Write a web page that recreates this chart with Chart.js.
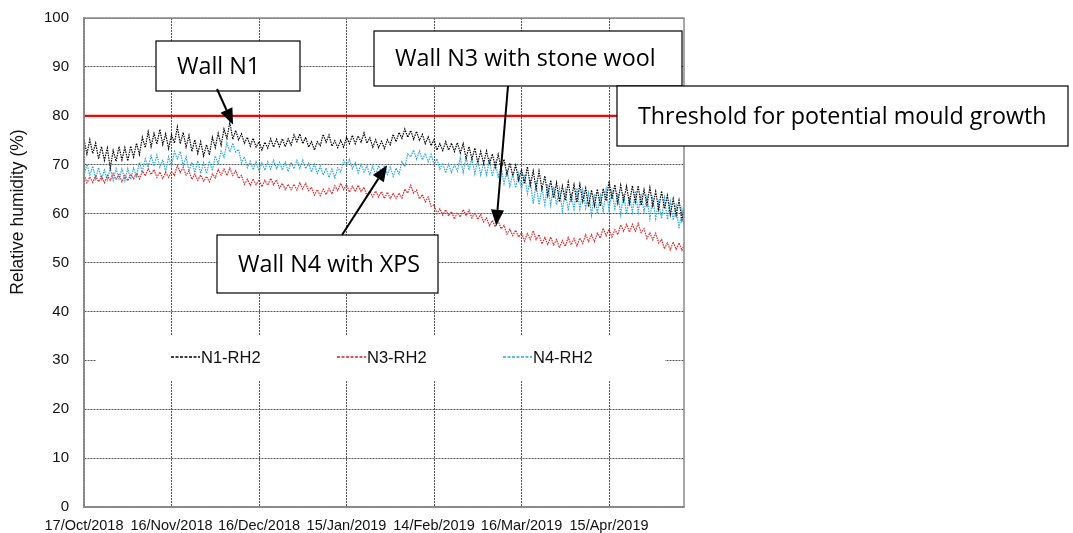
<!DOCTYPE html>
<html>
<head>
<meta charset="utf-8">
<script src="https://cdn.jsdelivr.net/npm/chart.js@4.4.0/dist/chart.umd.min.js"></script>
<style>
  body { margin: 0; background: #fff; }
  #wrap { width: 1073px; height: 533px; }
</style>
</head>
<body>
<div id="wrap"><canvas id="rh-chart" width="1073" height="533"></canvas></div>
<script>
"use strict";

// Relative humidity behind the insulation, one reading per day from 17/Oct/2018
const startDate = new Date(2018, 9, 17);
const stepDays = 1;
const lastDay = 205.7;
const tickStep = 30;
const threshold = 80;

const n1Rh2 = [
  75.0, 72.2, 75.1, 72.3, 74.4, 71.2, 73.7, 70.9, 73.4, 69.3,
  72.9, 70.7, 73.7, 71.0, 73.5, 70.8, 73.8, 71.6, 74.4, 72.1,
  75.6, 73.5, 76.7, 73.7, 76.4, 74.2, 77.2, 74.1, 76.3, 73.3,
  76.1, 74.4, 77.7, 74.3, 76.6, 73.6, 76.0, 72.7, 75.1, 72.3,
  74.7, 71.8, 74.1, 72.0, 75.6, 73.5, 76.4, 74.0, 77.3, 75.4,
  78.7, 75.2, 77.0, 75.1, 76.3, 74.4, 75.6, 73.8, 75.4, 73.6,
  74.7, 73.0, 74.6, 73.4, 75.3, 73.6, 75.2, 73.7, 75.3, 73.7,
  75.3, 74.0, 76.1, 74.7, 76.3, 74.3, 75.6, 73.6, 74.7, 73.0,
  74.7, 73.9, 76.2, 74.6, 76.1, 73.8, 74.9, 73.5, 75.0, 73.6,
  75.6, 74.3, 76.0, 74.3, 75.9, 74.6, 76.5, 74.4, 75.5, 73.6,
  75.1, 73.5, 74.8, 73.3, 75.1, 74.1, 76.2, 74.7, 76.6, 75.4,
  77.3, 75.6, 77.0, 75.2, 76.8, 75.0, 76.2, 74.3, 75.7, 73.9,
  75.1, 73.0, 74.3, 72.9, 74.7, 73.0, 74.4, 72.7, 74.5, 72.4,
  74.3, 71.3, 73.7, 71.1, 73.4, 70.4, 72.7, 70.3, 72.8, 70.1,
  72.2, 69.5, 72.1, 69.3, 71.1, 68.0, 70.3, 67.7, 69.9, 66.8,
  69.0, 66.1, 69.6, 65.8, 68.7, 65.1, 68.7, 65.1, 67.7, 63.7,
  66.8, 63.2, 66.3, 62.4, 65.6, 62.7, 66.4, 62.8, 65.9, 62.3,
  66.0, 62.5, 65.2, 61.4, 64.8, 61.6, 65.0, 61.5, 65.1, 62.6,
  66.6, 63.0, 65.9, 62.2, 65.8, 62.6, 65.6, 62.1, 65.7, 62.4,
  65.7, 61.7, 64.9, 61.8, 65.3, 61.6, 64.5, 60.9, 64.6, 61.0,
  63.7, 59.8, 63.0, 59.6, 62.7, 58.7, 61.8
];
const n3Rh2 = [
  67.9, 66.3, 67.5, 66.4, 67.7, 66.5, 67.6, 66.3, 67.8, 66.8,
  68.2, 67.0, 68.0, 66.5, 67.8, 66.7, 68.1, 67.1, 68.3, 67.1,
  68.7, 67.7, 69.2, 68.0, 69.0, 67.4, 68.5, 67.2, 68.4, 67.4,
  68.6, 67.8, 69.8, 68.4, 69.4, 67.9, 68.7, 67.0, 68.1, 66.8,
  67.9, 66.6, 67.6, 66.5, 68.1, 67.3, 69.0, 67.9, 69.1, 67.8,
  69.3, 67.8, 68.8, 67.2, 67.8, 66.0, 67.0, 65.8, 67.1, 65.9,
  66.9, 65.5, 66.8, 65.8, 67.2, 65.9, 66.9, 65.2, 66.2, 64.9,
  66.0, 64.9, 66.0, 64.8, 66.3, 65.0, 66.2, 64.7, 65.4, 63.8,
  64.9, 63.7, 65.0, 63.9, 65.1, 64.0, 65.7, 64.7, 66.2, 64.9,
  65.9, 64.4, 65.6, 64.5, 65.8, 64.5, 65.4, 63.6, 64.6, 63.4,
  64.6, 63.4, 64.5, 63.1, 64.4, 63.1, 64.2, 63.1, 64.2, 63.2,
  65.0, 64.2, 65.8, 64.2, 64.8, 63.0, 63.9, 62.4, 63.4, 61.5,
  61.8, 60.0, 61.0, 59.7, 60.8, 59.5, 60.4, 58.9, 60.2, 59.3,
  60.8, 59.6, 60.7, 59.1, 60.2, 58.8, 59.8, 58.3, 59.1, 57.5,
  58.6, 57.3, 58.5, 56.9, 57.6, 55.8, 56.8, 55.5, 56.6, 55.2,
  56.1, 54.4, 55.9, 54.7, 56.5, 54.7, 55.7, 53.8, 55.1, 53.7,
  55.2, 53.6, 54.7, 53.0, 54.5, 53.3, 55.1, 53.6, 54.9, 53.4,
  55.0, 53.9, 55.7, 54.3, 55.7, 54.3, 56.0, 55.0, 57.0, 55.5,
  56.8, 55.2, 56.7, 55.7, 57.7, 56.4, 57.8, 56.2, 57.8, 56.4,
  58.0, 56.1, 56.9, 54.9, 56.1, 54.6, 56.0, 54.0, 54.7, 52.8,
  54.0, 52.6, 54.2, 52.7, 54.0, 52.5, 54.1
];
const n4Rh2 = [
  67.8, 70.1, 67.9, 69.7, 67.1, 69.4, 67.0, 68.9, 66.9, 69.3,
  66.8, 69.2, 67.1, 69.1, 66.7, 69.2, 67.0, 69.3, 67.6, 70.5,
  68.5, 71.2, 69.5, 71.8, 69.7, 72.0, 69.5, 71.0, 68.6, 71.6,
  69.7, 72.7, 71.2, 72.7, 69.8, 71.6, 68.7, 70.5, 68.4, 70.8,
  68.2, 70.4, 68.2, 70.7, 68.8, 71.8, 70.2, 72.8, 71.5, 74.5,
  72.6, 74.4, 72.6, 73.1, 70.4, 71.6, 69.4, 70.7, 69.0, 70.6,
  68.7, 70.4, 68.9, 70.6, 69.1, 70.9, 69.2, 70.5, 68.9, 70.5,
  68.6, 70.5, 69.2, 70.9, 69.3, 71.0, 69.2, 70.3, 68.5, 70.1,
  68.2, 69.7, 67.9, 69.3, 67.4, 69.1, 67.3, 69.4, 68.5, 70.9,
  69.8, 71.1, 69.2, 70.4, 68.3, 70.1, 68.5, 69.7, 68.0, 69.7,
  67.9, 69.8, 68.4, 69.8, 68.0, 69.5, 67.6, 69.3, 68.1, 70.6,
  69.6, 72.2, 71.6, 73.0, 71.1, 72.8, 71.0, 72.3, 70.6, 72.1,
  70.1, 71.2, 69.1, 70.3, 68.3, 70.1, 68.4, 70.0, 68.7, 71.4,
  68.4, 71.5, 68.9, 71.3, 68.1, 71.0, 67.9, 70.4, 67.9, 70.9,
  67.6, 70.4, 67.5, 69.6, 66.1, 68.9, 65.6, 68.0, 65.3, 68.2,
  64.8, 68.0, 64.1, 66.9, 62.0, 66.0, 61.8, 65.2, 61.8, 66.0,
  61.7, 65.5, 61.8, 65.0, 60.5, 64.7, 60.6, 64.2, 60.9, 65.2,
  60.9, 64.8, 61.1, 64.2, 59.7, 64.0, 60.0, 63.7, 60.5, 64.9,
  60.7, 64.6, 61.0, 64.2, 59.8, 64.0, 59.9, 63.5, 60.3, 64.6,
  60.3, 64.1, 60.4, 63.5, 59.0, 63.1, 59.0, 62.4, 59.0, 63.2,
  58.8, 62.5, 58.7, 61.6, 56.9, 60.8, 56.5
];

const seriesNames = ["N1-RH2", "N3-RH2", "N4-RH2"];
const seriesColors = ["#000000", "#d8262a", "#27a9de"];
const seriesValues = [n1Rh2, n3Rh2, n4Rh2];

// text boxes; box = [x, y, w, h] in pixels, tip = [day, %RH] the arrow points at
const callouts = [
  { text: "Wall N1", box: [156, 41, 144, 50], from: [217, 89], tip: [51.1, 78.2] },
  { text: "Wall N3 with stone wool", box: [374, 31, 308, 55], from: [508, 86], tip: [141.3, 57.5] },
  { text: "Wall N4 with XPS", box: [217, 235, 221, 58], from: [342, 235], tip: [103.9, 69.9] },
  { text: "Threshold for potential mould growth", box: [617, 86, 451, 60] }
];

const axisFont = "'Liberation Sans', Arial, sans-serif";
const boxFont = "'Open Sans', 'Noto Sans', sans-serif";
const months = ["Jan", "Feb", "Mar", "Apr", "May", "Jun", "Jul", "Aug", "Sep", "Oct", "Nov", "Dec"];

function dayLabel(day) {
  const d = new Date(startDate.getTime());
  d.setDate(d.getDate() + Math.round(day));
  return String(d.getDate()).padStart(2, "0") + "/" + months[d.getMonth()] + "/" + d.getFullYear();
}

const datasets = seriesValues.map((values, k) => ({
  label: seriesNames[k],
  data: values.map((v, i) => ({ x: i * stepDays, y: v })),
  borderColor: seriesColors[k],
  borderWidth: 1.2,
  borderDash: [1.5, 1],
  pointRadius: 0,
  tension: 0,
  order: k + 1
}));
datasets.push({
  label: "threshold",
  data: [{ x: 0, y: threshold }, { x: lastDay, y: threshold }],
  borderColor: "#ff0000",
  borderWidth: 2.2,
  pointRadius: 0,
  order: 0
});

function drawArrow(ctx, x1, y1, x2, y2) {
  const ang = Math.atan2(y2 - y1, x2 - x1);
  const len = 16, half = 6.5;
  const bx = x2 - len * Math.cos(ang), by = y2 - len * Math.sin(ang);
  ctx.beginPath();
  ctx.moveTo(x1, y1);
  ctx.lineTo(bx, by);
  ctx.strokeStyle = "#000";
  ctx.lineWidth = 2;
  ctx.stroke();
  ctx.beginPath();
  ctx.moveTo(x2, y2);
  ctx.lineTo(bx + half * Math.sin(ang), by - half * Math.cos(ang));
  ctx.lineTo(bx - half * Math.sin(ang), by + half * Math.cos(ang));
  ctx.closePath();
  ctx.fillStyle = "#000";
  ctx.fill();
}

const decorations = {
  id: "decorations",
  beforeDatasetsDraw(chart) {
    // white panel behind the legend hides the grid
    const ctx = chart.ctx;
    ctx.save();
    ctx.fillStyle = "#fff";
    ctx.fillRect(96, 335, 569, 45);
    ctx.restore();
  },
  afterDraw(chart) {
    const ctx = chart.ctx;
    const area = chart.chartArea;
    const xs = chart.scales.x, ys = chart.scales.y;
    ctx.save();

    // plot frame
    ctx.strokeStyle = "#8a8a8a";
    ctx.lineWidth = 1.5;
    ctx.strokeRect(area.left, area.top, area.right - area.left, area.bottom - area.top);

    // y axis title
    ctx.save();
    ctx.translate(18, 212);
    ctx.rotate(-Math.PI / 2);
    ctx.fillStyle = "#111";
    ctx.font = "17.5px " + axisFont;
    ctx.textAlign = "center";
    ctx.textBaseline = "middle";
    ctx.fillText("Relative humidity (%)", 0, 0);
    ctx.restore();

    // legend
    ctx.font = "16.5px " + axisFont;
    ctx.textBaseline = "middle";
    ctx.textAlign = "left";
    seriesNames.forEach((name, k) => {
      const x0 = 171 + k * 166, y0 = 357;
      ctx.beginPath();
      ctx.setLineDash([3, 1.5]);
      ctx.strokeStyle = seriesColors[k];
      ctx.lineWidth = 1.5;
      ctx.moveTo(x0, y0);
      ctx.lineTo(x0 + 29, y0);
      ctx.stroke();
      ctx.setLineDash([]);
      ctx.fillStyle = "#111";
      ctx.fillText(name, x0 + 30, y0 + 1);
    });

    // call-out boxes and arrows
    callouts.forEach(c => {
      const [bx, by, bw, bh] = c.box;
      ctx.fillStyle = "#fff";
      ctx.fillRect(bx, by, bw, bh);
      ctx.strokeStyle = "#000";
      ctx.lineWidth = 1.2;
      ctx.strokeRect(bx, by, bw, bh);
      ctx.fillStyle = "#000";
      ctx.font = "23.3px " + boxFont;
      ctx.textAlign = "left";
      ctx.textBaseline = "middle";
      ctx.fillText(c.text, bx + 21, by + bh / 2 + 1);
      if (c.tip) {
        drawArrow(ctx, c.from[0], c.from[1], xs.getPixelForValue(c.tip[0]), ys.getPixelForValue(c.tip[1]));
      }
    });
    ctx.restore();
  }
};

new Chart(document.getElementById("rh-chart"), {
  type: "line",
  data: { datasets: datasets },
  options: {
    responsive: false,
    animation: false,
    devicePixelRatio: 1,
    layout: { padding: { left: 0, right: 389, top: 18, bottom: 0 } },
    plugins: { legend: { display: false }, tooltip: { enabled: false } },
    scales: {
      x: {
        type: "linear",
        min: 0,
        max: lastDay,
        afterFit: s => { s.height = 26; s.paddingLeft = 0; s.paddingRight = 0; },
        grid: { color: "#555", lineWidth: 1, drawTicks: false },
        border: { display: true, color: "#8a8a8a", width: 1.5, dash: [2, 1] },
        ticks: {
          stepSize: tickStep,
          includeBounds: false,
          autoSkip: false,
          maxRotation: 0,
          padding: 10,
          color: "#111",
          font: { family: axisFont, size: 14.5 },
          callback: v => dayLabel(v)
        }
      },
      y: {
        min: 0,
        max: 100,
        afterFit: s => { s.width = 84; s.paddingTop = 0; s.paddingBottom = 0; },
        grid: { color: "#555", lineWidth: 1, drawTicks: false },
        border: { display: true, color: "#8a8a8a", width: 1.5, dash: [2, 1] },
        ticks: {
          stepSize: 10,
          padding: 15,
          color: "#111",
          font: { family: axisFont, size: 15 }
        }
      }
    }
  },
  plugins: [decorations]
});
</script>
</body>
</html>
